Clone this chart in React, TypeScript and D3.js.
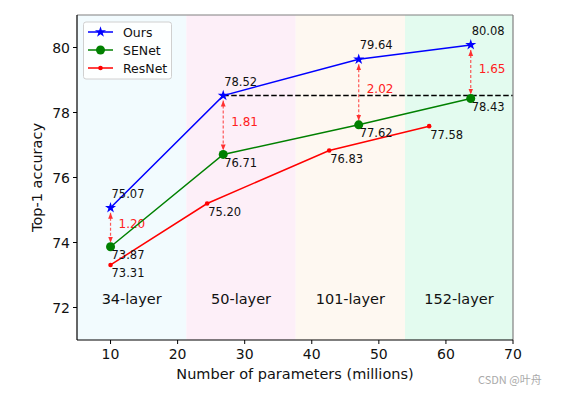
import React from 'react';
import * as d3 from 'd3';

// model sizes (millions of params) and top-1 accuracies
const oursParams = [10, 26.8, 47, 63.7];
const oursAcc = [75.07, 78.52, 79.64, 80.08];
const senetParams = [10, 26.8, 47, 63.7];
const senetAcc = [73.87, 76.71, 77.62, 78.43];
const resnetParams = [10, 24.4, 42.6, 57.5];
const resnetAcc = [73.31, 75.2, 76.83, 77.58];
const gaps = ['1.20', '1.81', '2.02', '1.65'];

const regionLabels = ['34-layer', '50-layer', '101-layer', '152-layer'];
const regionEdges = [5, 21.3, 37.6, 53.9, 70];
const regionColors = ['#f2fbfe', '#fdeff8', '#fef8f1', '#e3fbef'];

const xTicks = [10, 20, 30, 40, 50, 60, 70];
const yTicks = [72, 74, 76, 78, 80];

const W = 561;
const H = 395;
const L = 77, R = 513, T = 15, B = 340;
const font = 'DejaVu Sans, sans-serif';

const App: React.FC = () => {
  const x = d3.scaleLinear().domain([5, 70]).range([L, R]);
  const y = d3.scaleLinear().domain([71, 81]).range([B, T]);

  const line = d3.line<[number, number]>()
    .x(d => x(d[0]))
    .y(d => y(d[1]));

  const ours = oursParams.map((p, i) => [p, oursAcc[i]] as [number, number]);
  const senet = senetParams.map((p, i) => [p, senetAcc[i]] as [number, number]);
  const resnet = resnetParams.map((p, i) => [p, resnetAcc[i]] as [number, number]);

  const star = d3.symbol().type(d3.symbolStar).size(38)() || '';

  return (
    <svg width={W} height={H} style={{ position: 'absolute', left: 0, top: 0, background: '#fff' }}
      fontFamily={font}>
      <defs>
        <marker id="ah" viewBox="0 0 10 10" refX="10" refY="5" markerWidth="6" markerHeight="6"
          orient="auto-start-reverse" markerUnits="userSpaceOnUse">
          <path d="M0,1 L10,5 L0,9 Z" fill="#ff3030" />
        </marker>
      </defs>

      {/* layer regions */}
      {regionLabels.map((lab, i) => (
        <g key={lab}>
          <rect x={x(regionEdges[i])} y={T} width={x(regionEdges[i + 1]) - x(regionEdges[i])}
            height={B - T} fill={regionColors[i]} />
          <text x={x((regionEdges[i] + regionEdges[i + 1]) / 2)} y={y(72.12)} fontSize={14.5}
            textAnchor="middle" fill="#111">{lab}</text>
        </g>
      ))}

      {/* reference dashed line at Ours-50 */}
      <line x1={x(oursParams[1])} x2={R} y1={y(oursAcc[1])} y2={y(oursAcc[1])}
        stroke="#000" strokeWidth={1.5} strokeDasharray="5.5,2.5" />

      {/* gap arrows */}
      {gaps.map((g, i) => {
        const px = x(oursParams[i]);
        const y1 = y(oursAcc[i]) + 5;
        const y2 = y(senetAcc[i]) - 4;
        const mid = y((oursAcc[i] + senetAcc[i]) / 2);
        return (
          <g key={g}>
            <line x1={px} x2={px} y1={y1} y2={y2} stroke="#ff3030" strokeOpacity={0.8}
              strokeWidth={1.2} strokeDasharray="3,2" markerStart="url(#ah)" markerEnd="url(#ah)" />
            <text x={px + 8} y={mid + 1} fontSize={12} fill="#ff2020">{g}</text>
          </g>
        );
      })}

      {/* series */}
      <path d={line(resnet) || ''} fill="none" stroke="#ff0000" strokeWidth={1.5} />
      {resnet.map((d, i) => (
        <g key={'r' + i}>
          <circle cx={x(d[0])} cy={y(d[1])} r={2.3} fill="#ff0000" />
          <text x={x(d[0]) + 1} y={y(d[1]) + 12.5} fontSize={11.5} fill="#111">{d[1].toFixed(2)}</text>
        </g>
      ))}
      <path d={line(senet) || ''} fill="none" stroke="#008000" strokeWidth={1.5} />
      {senet.map((d, i) => (
        <g key={'s' + i}>
          <circle cx={x(d[0])} cy={y(d[1])} r={4.5} fill="#008000" />
          <text x={x(d[0]) + 1} y={y(d[1]) + 12.5} fontSize={11.5} fill="#111">{d[1].toFixed(2)}</text>
        </g>
      ))}
      <path d={line(ours) || ''} fill="none" stroke="#0000ff" strokeWidth={1.5} />
      {ours.map((d, i) => (
        <g key={'o' + i}>
          <path d={star} transform={`translate(${x(d[0])},${y(d[1])})`} fill="#0000ff" />
          <text x={x(d[0]) + 1} y={y(d[1]) - 10} fontSize={11.5} fill="#111">{d[1].toFixed(2)}</text>
        </g>
      ))}

      {/* spines */}
      <line x1={L} x2={R} y1={T} y2={T} stroke="#808080" strokeWidth={1.2} />
      <line x1={R} x2={R} y1={T} y2={B} stroke="#808080" strokeWidth={1.2} />
      <line x1={L} x2={L} y1={T} y2={B} stroke="#000" strokeWidth={1.2} />
      <line x1={L} x2={R} y1={B} y2={B} stroke="#000" strokeWidth={1.2} />

      {/* x axis */}
      {xTicks.map(t => (
        <g key={'xt' + t}>
          <line x1={x(t)} x2={x(t)} y1={B} y2={B + 4} stroke="#000" />
          <text x={x(t)} y={B + 19} fontSize={14} textAnchor="middle" fill="#111">{t}</text>
        </g>
      ))}
      <text x={(L + R) / 2} y={379} fontSize={14.5} textAnchor="middle" fill="#111">
        Number of parameters (millions)
      </text>

      {/* y axis */}
      {yTicks.map(t => (
        <g key={'yt' + t}>
          <line x1={L - 4} x2={L} y1={y(t)} y2={y(t)} stroke="#000" />
          <text x={L - 7} y={y(t) + 5} fontSize={14} textAnchor="end" fill="#111">{t}</text>
        </g>
      ))}
      <text transform={`translate(42,${(T + B) / 2}) rotate(-90)`} fontSize={14.5}
        textAnchor="middle" fill="#111">Top-1 accuracy</text>

      {/* legend */}
      <g>
        <rect x={83.5} y={22} width={88} height={57} rx={2.5} fill="#fff" fillOpacity={0.85}
          stroke="#d0d0d0" />
        {[
          { name: 'Ours', color: '#0000ff', kind: 'star' },
          { name: 'SENet', color: '#008000', kind: 'big' },
          { name: 'ResNet', color: '#ff0000', kind: 'small' },
        ].map((e, i) => {
          const ly = 32 + i * 18;
          return (
            <g key={e.name}>
              <line x1={88} x2={113} y1={ly} y2={ly} stroke={e.color} strokeWidth={1.5} />
              {e.kind === 'star' && <path d={star} transform={`translate(100.5,${ly})`} fill={e.color} />}
              {e.kind === 'big' && <circle cx={100.5} cy={ly} r={4.5} fill={e.color} />}
              {e.kind === 'small' && <circle cx={100.5} cy={ly} r={2.3} fill={e.color} />}
              <text x={123} y={ly + 4.5} fontSize={12.5} fill="#111">{e.name}</text>
            </g>
          );
        })}
      </g>

      <text x={478} y={384} fontSize={11} fill="#aaa" fontFamily="Noto Sans CJK SC, sans-serif">CSDN @叶舟</text>
    </svg>
  );
};

export default App;
